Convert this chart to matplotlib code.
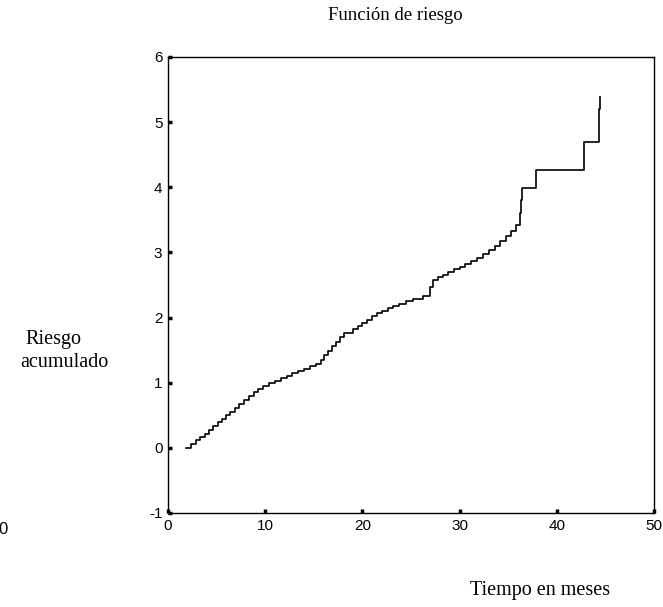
import numpy as np
import matplotlib.pyplot as plt

# estimated cumulative hazard (step function)
tiempo = [1.9, 2.4, 2.9, 3.3, 3.8, 4.2, 4.6, 5.1, 5.6, 6.0,
          6.4, 6.9, 7.3, 7.8, 8.3, 8.8, 9.3, 9.8, 10.4, 11.0,
          11.6, 12.2, 12.8, 13.4, 14.0, 14.6, 15.2, 15.7, 16.1, 16.5,
          16.9, 17.3, 17.7, 18.1, 19.0, 19.5, 20.0, 20.5, 21.0, 21.5,
          22.0, 22.6, 23.2, 23.8, 24.5, 25.2, 26.2, 27.0, 27.3, 27.8,
          28.3, 28.8, 29.4, 30.0, 30.6, 31.2, 31.8, 32.4, 33.0, 33.6,
          34.2, 34.8, 35.3, 35.8, 36.2, 36.3, 36.4, 37.9, 42.8, 44.3,
          44.35, 44.4]
riesgo = [0.00, 0.06, 0.12, 0.17, 0.22, 0.27, 0.33, 0.39, 0.45, 0.50,
          0.55, 0.61, 0.67, 0.73, 0.79, 0.85, 0.90, 0.95, 0.99, 1.03,
          1.07, 1.11, 1.15, 1.18, 1.21, 1.25, 1.29, 1.35, 1.42, 1.49,
          1.56, 1.63, 1.70, 1.76, 1.82, 1.87, 1.92, 1.97, 2.02, 2.07,
          2.10, 2.14, 2.18, 2.21, 2.25, 2.29, 2.33, 2.47, 2.58, 2.62,
          2.66, 2.70, 2.74, 2.78, 2.82, 2.87, 2.92, 2.98, 3.04, 3.10,
          3.17, 3.25, 3.33, 3.42, 3.60, 3.80, 3.99, 4.27, 4.70, 5.00,
          5.20, 5.39]

xticks = [0, 10, 20, 30, 40, 50]
yticks = [-1, 0, 1, 2, 3, 4, 5, 6]

plt.rcParams['axes.unicode_minus'] = False
serif = ['Liberation Serif', 'DejaVu Serif']
narrow = ['Liberation Sans Narrow', 'Liberation Sans', 'DejaVu Sans']

fig = plt.figure(figsize=(6.63, 6.07), dpi=100)
ax = fig.add_axes([0.2534, 0.1549, 0.7330, 0.7512])

ax.step(tiempo, riesgo, where='post', color='black', linewidth=1.2)

ax.set_xlim(0, 50)
ax.set_ylim(-1, 6)
ax.set_xticks(xticks)
ax.set_yticks(yticks)
ax.tick_params(direction='in', length=3, width=2.5, color='black',
               labelsize=11, pad=4)
for lbl in ax.get_xticklabels() + ax.get_yticklabels():
    lbl.set_family(narrow)
for sp in ax.spines.values():
    sp.set_linewidth(1.0)

fig.text(0.596, 0.975, 'Función de riesgo', ha='center', va='center',
         fontsize=13.5, family=serif)
fig.text(0.038, 0.44, 'Riesgo', ha='left', va='center',
         fontsize=14.5, family=serif)
fig.text(0.030, 0.402, 'acumulado', ha='left', va='center',
         fontsize=14.5, family=serif)
fig.text(0.815, 0.028, 'Tiempo en meses', ha='center', va='center',
         fontsize=14.5, family=serif)
# label left over from the neighbouring panel
fig.text(0.004, 0.127, '0', ha='center', va='center',
         fontsize=12, family=narrow)

fig.savefig('out.png', dpi=100)
